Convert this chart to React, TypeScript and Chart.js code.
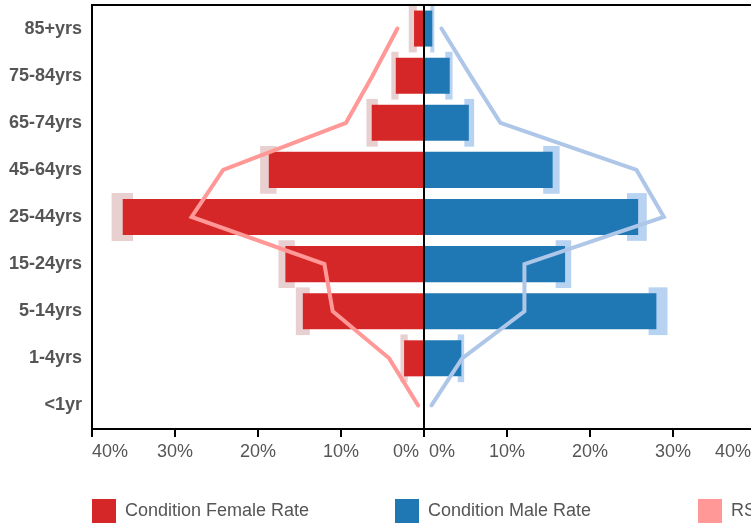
import React, { useEffect, useRef } from 'react';
import { Chart, registerables } from 'chart.js';

Chart.register(...registerables);

// ---- data ----
const categories = ['85+yrs', '75-84yrs', '65-74yrs', '45-64yrs', '25-44yrs', '15-24yrs', '5-14yrs', '1-4yrs', '<1yr'];

const conditionFemaleRate = [1.2, 3.4, 6.3, 18.7, 36.3, 16.7, 14.6, 2.4, 0];
const conditionFemaleLow = [0.9, 3.1, 5.6, 17.8, 35.1, 15.6, 13.8, 2.0, null];
const conditionFemaleHigh = [1.8, 3.9, 6.9, 19.7, 37.6, 17.5, 15.4, 2.8, null];

const conditionMaleRate = [1.0, 3.1, 5.4, 15.5, 25.8, 17.0, 28.0, 4.5, 0];
const conditionMaleLow = [0.8, 2.6, 4.9, 14.4, 24.5, 15.9, 27.1, 4.1, null];
const conditionMaleHigh = [1.2, 3.4, 6.0, 16.3, 26.8, 17.7, 29.3, 4.8, null];

const rsFemaleRate = [3.2, 6.2, 9.4, 24.2, 28.0, 12.0, 11.0, 4.2, 0.7];
const rsMaleRate = [2.1, 5.6, 9.2, 25.6, 28.9, 12.1, 12.1, 4.6, 0.9];

const axisMax = 40;
const axisStep = 10;

const seriesLabels = ['Condition Female Rate', 'Condition Male Rate', 'RS Female Rate', 'RS Male Rate'];

// ---- styling ----
const FONT = "'Liberation Sans', Arial, Helvetica, sans-serif";
const TEXT = '#555555';
const RED = '#d62728';
const BLUE = '#1f77b4';
const PINK = '#ff9896';
const LIGHTBLUE = '#aec7e8';
const RED_CI = '#e8d0d1';
const BLUE_CI = '#b8d3f1';

// female side is plotted on a mirrored (negative) axis
const neg = (arr: (number | null)[]) => arr.map((v) => (v === null ? null : -v));
const pair = (lo: (number | null)[], hi: (number | null)[]) =>
  lo.map((l, i) => (l === null || hi[i] === null ? null : [l, hi[i] as number]));

const framePlugin = {
  id: 'frameAndCenter',
  afterDatasetsDraw(chart: any) {
    const { ctx, chartArea } = chart;
    const x0 = chart.scales.xR.getPixelForValue(0);
    ctx.save();
    ctx.strokeStyle = '#000';
    ctx.lineWidth = 2;
    ctx.beginPath();
    ctx.moveTo(x0, chartArea.top);
    ctx.lineTo(x0, chartArea.bottom);
    ctx.stroke();
    ctx.beginPath();
    ctx.moveTo(chartArea.left, chartArea.top);
    ctx.lineTo(chartArea.right, chartArea.top);
    ctx.lineTo(chartArea.right, chartArea.bottom);
    ctx.stroke();
    ctx.restore();
  },
};

const legendPlugin = {
  id: 'spacedLegend',
  afterDraw(chart: any) {
    const { ctx, chartArea } = chart;
    const items = chart.data.datasets
      .filter((d: any) => d.legendIndex !== undefined)
      .sort((a: any, b: any) => a.legendIndex - b.legendIndex);
    ctx.save();
    ctx.font = `18px ${FONT}`;
    ctx.textBaseline = 'middle';
    ctx.textAlign = 'left';
    items.forEach((d: any, i: number) => {
      const x = chartArea.left + i * 303;
      const y = 499;
      ctx.fillStyle = d.legendColor;
      ctx.fillRect(x, y, 24, 24);
      ctx.fillStyle = TEXT;
      ctx.fillText(d.label, x + 33, y + 12);
    });
    ctx.restore();
  },
};

const xAxis = (min: number, max: number, side: 'left' | 'right') => ({
  type: 'linear',
  position: 'bottom',
  stack: 'x',
  stackWeight: 1,
  min,
  max,
  afterFit(scale: any) {
    scale.height = 96;
    scale.paddingLeft = 0;
    scale.paddingRight = 0;
  },
  ticks: {
    stepSize: axisStep,
    align: 'inner',
    padding: 4,
    color: TEXT,
    font: { family: FONT, size: 18 },
    callback: (v: number, i: number, ticks: any[]) => {
      const text = `${Math.abs(v)}%`;
      const last = i === ticks.length - 1;
      if (side === 'left' && last) return `${text} `;
      if (side === 'right' && i === 0) return ` ${text}`;
      if (side === 'right' && last) return `${text} `;
      return text;
    },
  },
  grid: {
    display: true,
    drawOnChartArea: false,
    drawTicks: true,
    tickLength: 8,
    color: '#000',
    lineWidth: 2,
  },
  border: { display: true, color: '#000', width: 2 },
});

export default function App() {
  const canvasRef = useRef<HTMLCanvasElement | null>(null);

  useEffect(() => {
    const canvas = canvasRef.current;
    if (!canvas) return;
    const chart = new Chart(canvas, {
      type: 'bar',
      data: {
        labels: categories,
        datasets: [
          {
            type: 'line',
            label: seriesLabels[2],
            data: neg(rsFemaleRate),
            xAxisID: 'xL',
            yAxisID: 'y',
            indexAxis: 'y',
            borderColor: PINK,
            borderWidth: 4,
            borderCapStyle: 'round',
            pointRadius: 0,
            fill: false,
            order: 0,
            legendIndex: 2,
            legendColor: PINK,
          } as any,
          {
            type: 'line',
            label: seriesLabels[3],
            data: rsMaleRate,
            xAxisID: 'xR',
            yAxisID: 'y',
            indexAxis: 'y',
            borderColor: LIGHTBLUE,
            borderWidth: 4,
            borderCapStyle: 'round',
            pointRadius: 0,
            fill: false,
            order: 0,
            legendIndex: 3,
            legendColor: LIGHTBLUE,
          } as any,
          {
            label: seriesLabels[0],
            data: neg(conditionFemaleRate),
            xAxisID: 'xL',
            yAxisID: 'y',
            backgroundColor: RED,
            grouped: false,
            categoryPercentage: 1,
            barPercentage: 0.765,
            order: 1,
            legendIndex: 0,
            legendColor: RED,
          } as any,
          {
            label: seriesLabels[1],
            data: conditionMaleRate,
            xAxisID: 'xR',
            yAxisID: 'y',
            backgroundColor: BLUE,
            grouped: false,
            categoryPercentage: 1,
            barPercentage: 0.765,
            order: 1,
            legendIndex: 1,
            legendColor: BLUE,
          } as any,
          {
            label: 'Female interval',
            data: pair(neg(conditionFemaleHigh), neg(conditionFemaleLow)),
            xAxisID: 'xL',
            yAxisID: 'y',
            backgroundColor: RED_CI,
            grouped: false,
            categoryPercentage: 1,
            barPercentage: 1,
            order: 2,
          } as any,
          {
            label: 'Male interval',
            data: pair(conditionMaleLow, conditionMaleHigh),
            xAxisID: 'xR',
            yAxisID: 'y',
            backgroundColor: BLUE_CI,
            grouped: false,
            categoryPercentage: 1,
            barPercentage: 1,
            order: 2,
          } as any,
        ],
      },
      options: {
        indexAxis: 'y',
        responsive: false,
        animation: false,
        layout: { padding: { top: 5, right: 44, bottom: 0, left: 0 } },
        plugins: {
          legend: { display: false },
          tooltip: { enabled: false },
        },
        scales: {
          xL: xAxis(-axisMax, 0, 'left'),
          xR: xAxis(0, axisMax, 'right'),
          y: {
            type: 'category',
            position: 'left',
            afterFit(scale: any) {
              scale.width = 92;
              scale.paddingTop = 0;
              scale.paddingBottom = 0;
            },
            ticks: {
              padding: 10,
              color: TEXT,
              font: { family: FONT, size: 18, weight: 'bold' },
            },
            grid: { display: false, drawTicks: false },
            border: { display: true, color: '#000', width: 2 },
          },
        } as any,
      },
      plugins: [framePlugin, legendPlugin],
    } as any);
    return () => chart.destroy();
  }, []);

  return (
    <div style={{ position: 'absolute', left: 0, top: 0, width: 751, height: 525, overflow: 'hidden', background: '#fff' }}>
      <canvas ref={canvasRef} width={800} height={525} style={{ display: 'block' }} />
    </div>
  );
}
